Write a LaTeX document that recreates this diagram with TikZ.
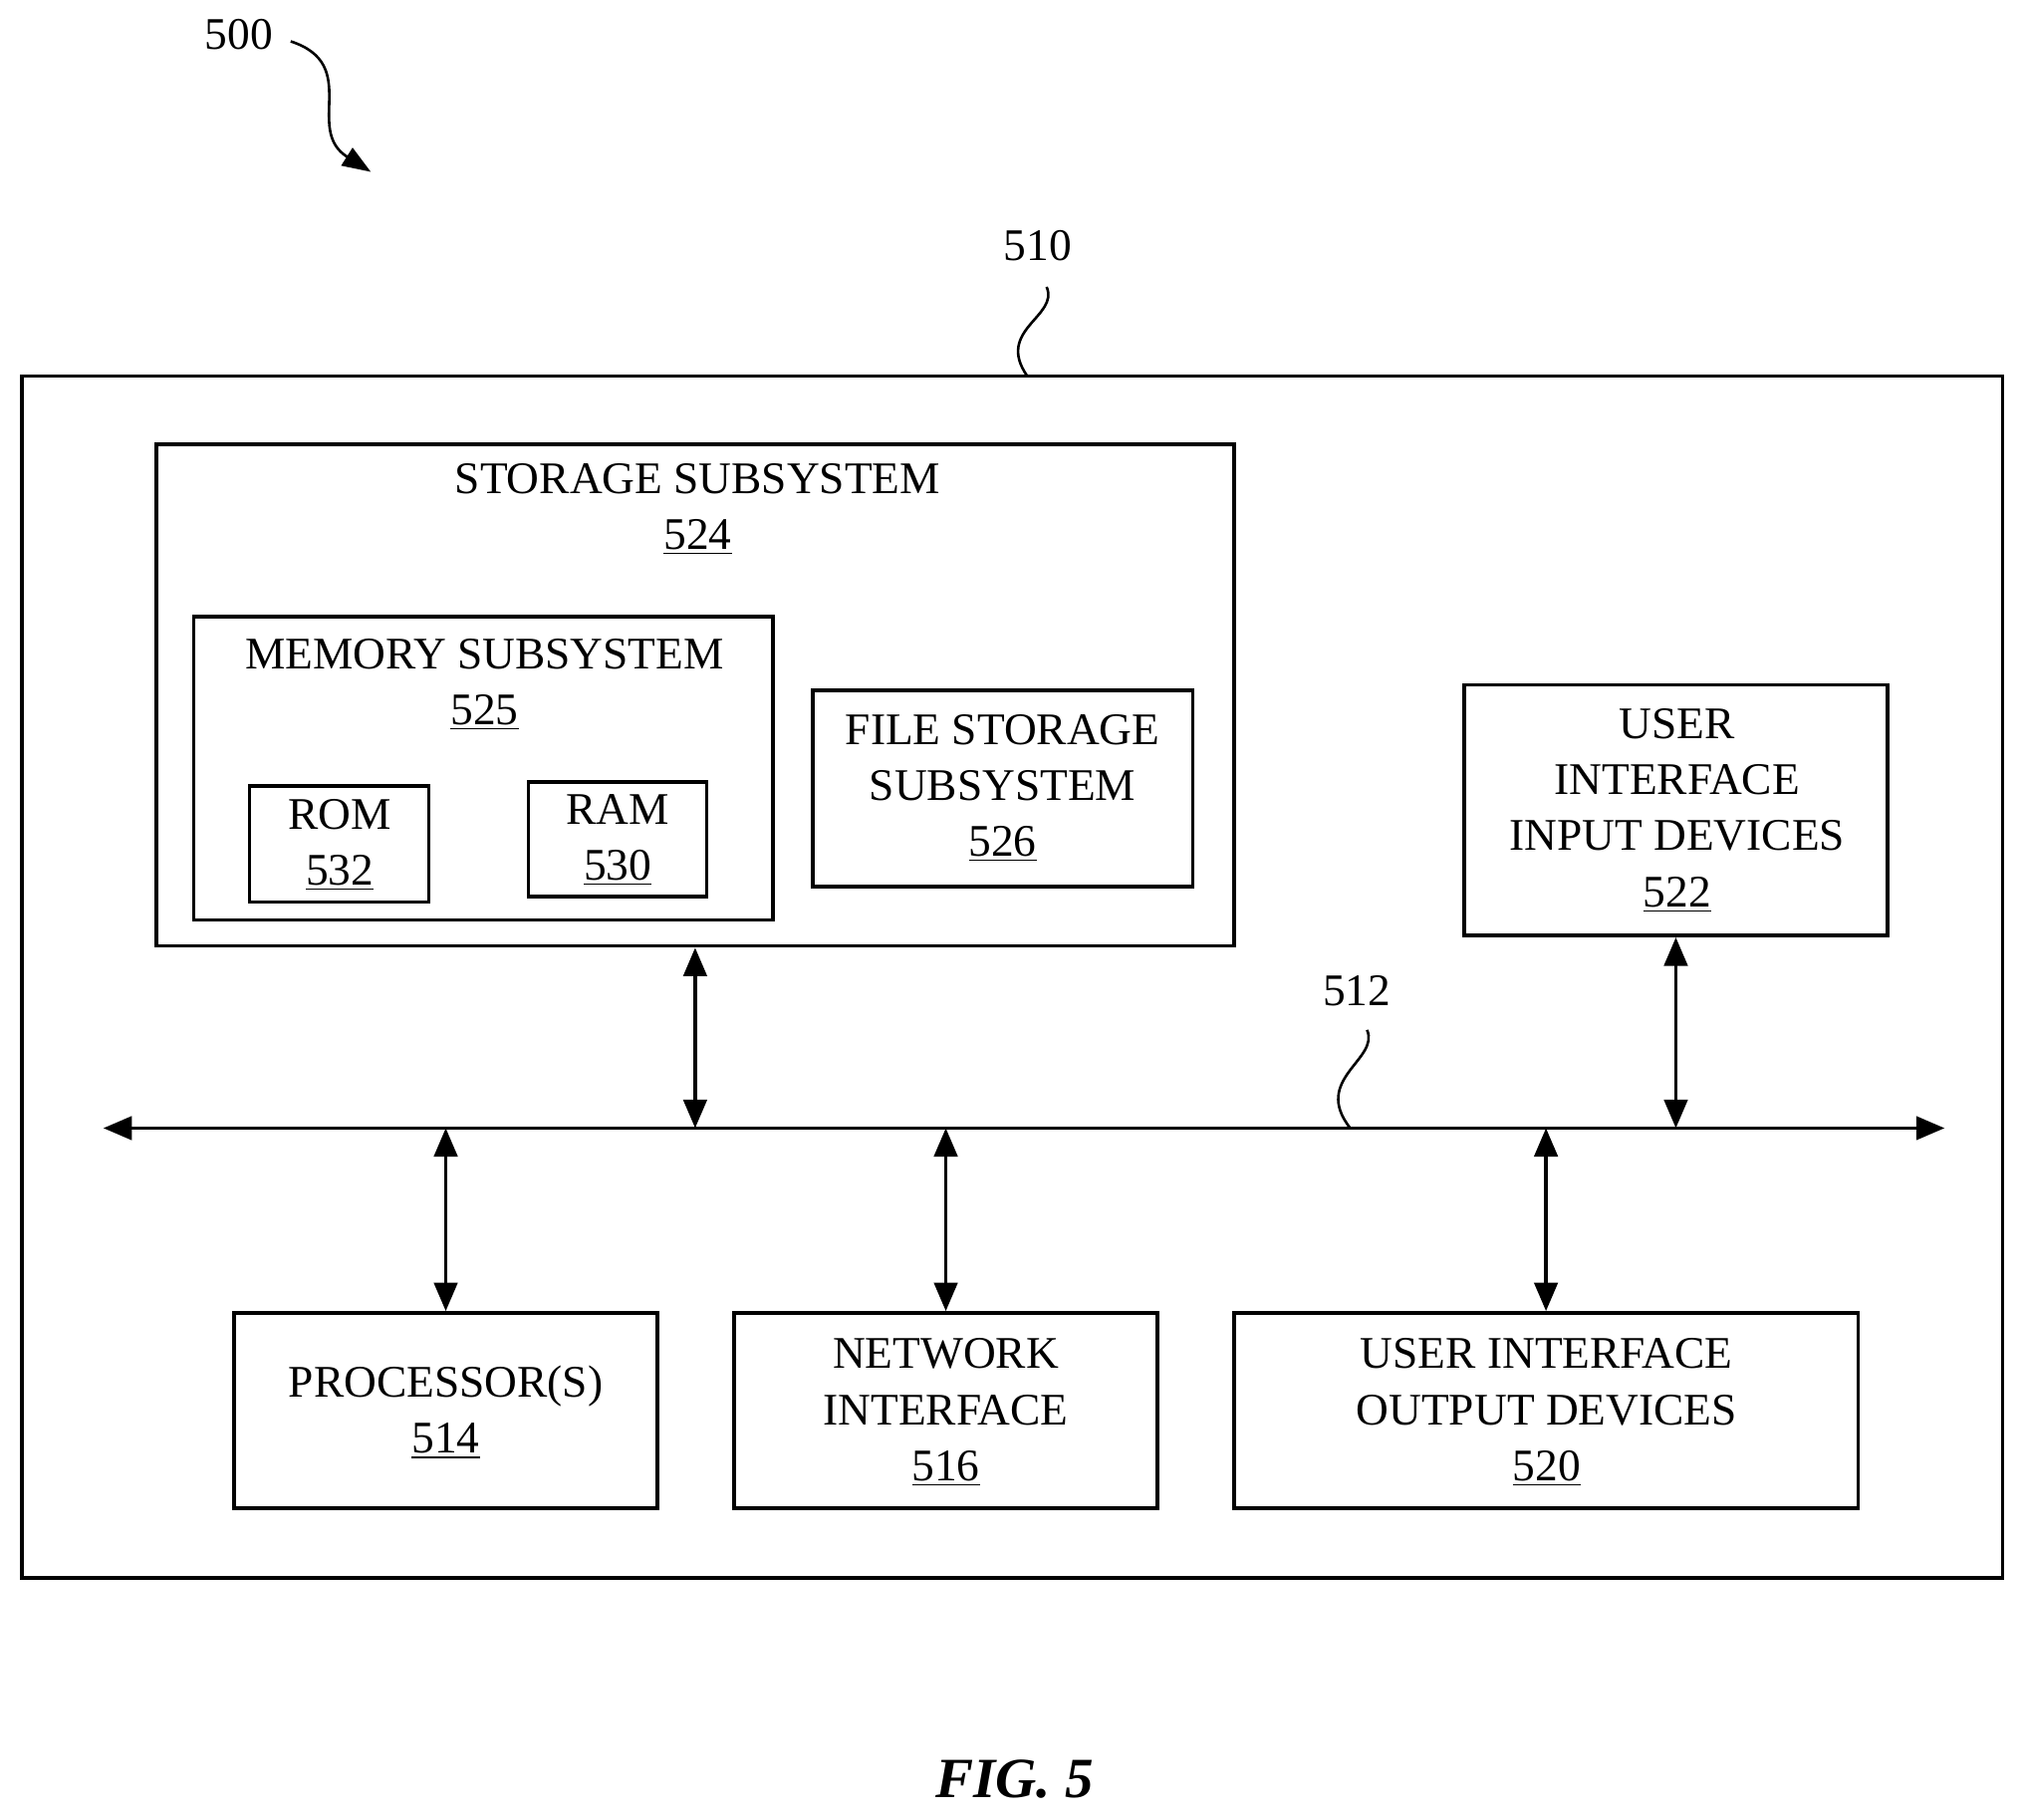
\documentclass[tikz,border=0pt]{standalone}
\usepackage{fontspec}
\setmainfont{Liberation Serif}
\usetikzlibrary{arrows.meta,positioning}

\begin{document}
\begin{tikzpicture}[x=0.5pt,y=-0.5pt,line width=1.4pt,
  box/.style={draw,rectangle,inner sep=0pt},
  txt/.style={font=\fontsize{17.5}{21.7}\selectfont,align=center,inner sep=0pt},
  dbl/.style={{Triangle[length=11pt,width=9pt]}-{Triangle[length=11pt,width=9pt]}},
  tip/.style={-{Triangle[length=11pt,width=8pt]}}]

  \useasboundingbox (0,0) rectangle (1568,1408);

  % boxes
  \node[box,minimum width=766.5pt,minimum height=465pt] (sys) at (783.5,756) {};
  \node[box,minimum width=417pt,minimum height=194pt] (stor) at (538,538) {};
  \node[box,minimum width=224pt,minimum height=117.5pt] (mem) at (374,594.5) {};
  \node[box,minimum width=69.5pt,minimum height=45pt] (rom) at (262.5,653) {};
  \node[box,minimum width=69pt,minimum height=44.5pt] (ram) at (478,649.5) {};
  \node[box,minimum width=147pt,minimum height=76pt] (file) at (776,610) {};
  \node[box,minimum width=164pt,minimum height=97pt] (uiin) at (1297,627) {};
  \node[box,minimum width=164pt,minimum height=75.5pt] (proc) at (345,1091.5) {};
  \node[box,minimum width=164pt,minimum height=75.5pt] (net) at (732,1091.5) {};
  \node[box,minimum width=241.5pt,minimum height=75.5pt] (uiout) at (1196.5,1091.5) {};

  % texts
  \node[txt] (storT) at (540,394) {STORAGE SUBSYSTEM\\\underline{524}};
  \node[txt] (memT) at (375,530) {MEMORY SUBSYSTEM\\\underline{525}};
  \node[txt] (romT) at (263,654) {ROM\\\underline{532}};
  \node[txt] (ramT) at (478,650) {RAM\\\underline{530}};
  \node[txt] (fileT) at (776,610) {FILE STORAGE\\SUBSYSTEM\\\underline{526}};
  \node[txt] (uiinT) at (1298,627) {USER\\INTERFACE\\INPUT DEVICES\\\underline{522}};
  \node[txt] (procT) at (345,1093) {PROCESSOR(S)\\\underline{514}};
  \node[txt] (netT) at (732,1093) {NETWORK\\INTERFACE\\\underline{516}};
  \node[txt] (uioutT) at (1197,1093) {USER INTERFACE\\OUTPUT DEVICES\\\underline{520}};

  % bus
  \coordinate (busL) at (80,873);
  \coordinate (busR) at (1505,873);
  \draw[dbl] (busL) -- (busR);
  \draw[dbl] (stor.south) -- (stor.south |- busL);
  \draw[dbl] (uiin.south) -- (uiin.south |- busL);
  \draw[dbl] (proc.north |- busL) -- (proc.north);
  \draw[dbl] (net.north |- busL) -- (net.north);
  \draw[dbl] (uiout.north |- busL) -- (uiout.north);

  % reference numerals
  \node[txt] (n500) at (185,27) {500};
  \node[txt] (n510) at (803,190) {510};
  \node[txt] (n512) at (1050,767) {512};
  \coordinate (a500) at (287,133);
  \draw[line width=1pt,tip] (225,32) .. controls (280,50) and (235,100) .. (a500);
  \draw[line width=1pt] (810,222) .. controls (820,245) and (770,255) .. (795,291);
  \draw[line width=1pt] (1058,797) .. controls (1068,820) and (1015,835) .. (1045,873);

  \node[font=\fontsize{22}{26}\selectfont\bfseries\itshape] (fig) at (785,1377) {FIG. 5};
\end{tikzpicture}
\end{document}
